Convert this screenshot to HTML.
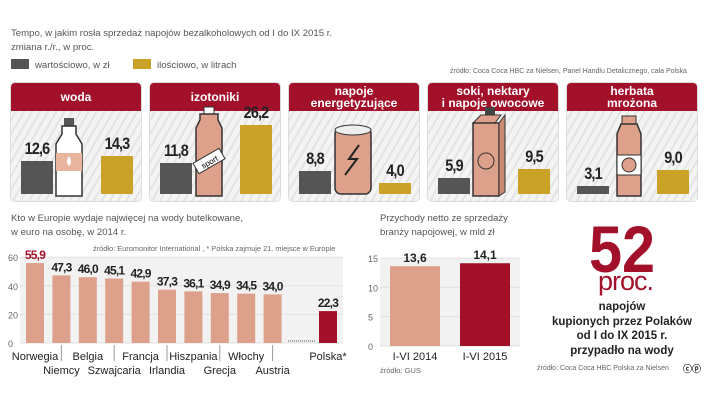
<!DOCTYPE html>
<html><head><meta charset="utf-8">
<style>
*{margin:0;padding:0;box-sizing:border-box}
body{width:720px;height:405px;background:#fff;position:relative;overflow:hidden;font-family:"Liberation Sans",sans-serif;color:#333}
.t{position:absolute;white-space:nowrap}
.panel{position:absolute;top:82px;width:132px;height:120px;border-radius:5px;border:1px solid #ddd;
background:repeating-linear-gradient(-60deg,#f4f4f4 0 5px,#e4e4e4 5px 7px);overflow:hidden}
.hd{position:absolute;left:0;top:0;width:100%;height:28px;background:#a3102a;color:#fff;font-weight:bold;font-size:12px;line-height:12px;text-align:center;display:flex;align-items:center;justify-content:center}
.num{position:absolute;font-weight:bold;font-size:17px;color:#222;letter-spacing:-1px;transform:scaleX(.85);transform-origin:center bottom;width:40px;text-align:center}
.bar{position:absolute}
</style></head><body>
<div class="t" style="left:11px;top:28px;font-size:9.6px;color:#555">Tempo, w jakim rosła sprzedaż napojów bezalkoholowych od I do IX 2015 r.</div>
<div class="t" style="left:11px;top:42px;font-size:9.6px;color:#555">zmiana r./r., w proc.</div>
<div class="t" style="left:11px;top:59px;font-size:9.6px;color:#555"><span style="display:inline-block;width:18px;height:10px;background:#555;vertical-align:-1px;margin-right:6px"></span>wartościowo, w zł</div>
<div class="t" style="left:133px;top:59px;font-size:9.6px;color:#555"><span style="display:inline-block;width:18px;height:10px;background:#c9a227;vertical-align:-1px;margin-right:6px"></span>ilościowo, w litrach</div>
<div class="t" style="left:450px;top:68px;font-size:7px;color:#666">źródło: Coca Coca HBC za Nielsen, Panel Handlu Detalicznego, cała Polska</div>
<div id="panels"></div>

<div class="t" style="left:11px;top:212px;font-size:9.6px;color:#555;line-height:14px">Kto w Europie wydaje najwięcej na wody butelkowane,<br>w euro na osobę, w 2014 r.</div>
<div class="t" style="left:93px;top:244px;font-size:7.4px;color:#666">źródło: Euromonitor International , * Polska zajmuje 21. miejsce w Europie</div>
<svg id="eu" style="position:absolute;left:0;top:250px" width="360" height="135"></svg>

<div class="t" style="left:380px;top:212px;font-size:9.6px;color:#555;line-height:14px">Przychody netto ze sprzedaży<br>branży napojowej, w mld zł</div>
<svg id="rev" style="position:absolute;left:360px;top:250px" width="170" height="115"></svg>
<div class="t" style="left:380px;top:366px;font-size:7.5px;color:#666">źródło: GUS</div>

<div class="t" style="left:589px;top:216px;font-size:66px;font-weight:bold;color:#a3102a;line-height:66px;transform:scaleX(.9);transform-origin:left">52</div>
<div class="t" style="left:598px;top:266px;font-size:27px;color:#a3102a;letter-spacing:-1px">proc.</div>
<div class="t" style="left:552px;top:300px;width:140px;text-align:center;font-size:11.5px;font-weight:bold;color:#222;line-height:14.5px">napojów<br>kupionych przez Polaków<br>od I do IX 2015 r.<br>przypadło na wody</div>
<div class="t" style="left:537px;top:365px;font-size:7px;color:#666">źródło: Coca Coca HBC Polska za Nielsen</div>
<div class="t" style="left:683px;top:362px;font-size:9px;font-weight:bold;color:#333">ⓒⓟ</div>

<script>
const cats=["woda","izotoniki","napoje<br>energetyzujące","soki, nektary<br>i napoje owocowe","herbata<br>mrożona"];
const valueZl=[12.6,11.8,8.8,5.9,3.1];
const volumeL=[14.3,26.2,4.0,9.5,9.0];
const fmt=v=>v.toFixed(1).replace('.',',');
const pk=2.63, base=111;
const icons=[
'<rect x="53" y="35" width="10" height="8" fill="#555"/><path d="M51 43h14v8l6 10v52H45V61l6-10z" fill="#fff" stroke="#333" stroke-width="1.5"/><rect x="45" y="70" width="26" height="18" fill="#e9b49e"/><path d="M58 73q4 6 0 10q-4-4 0-10z" fill="#fff"/>',
'<rect x="54" y="24" width="10" height="7" fill="#fff" stroke="#333"/><path d="M50 31h18v6l4 8v68H46V45l4-8z" fill="#dda08a" stroke="#333" stroke-width="1.5"/><rect x="44" y="72" width="30" height="12" fill="#fff" stroke="#333" transform="rotate(-30 59 78)"/><text x="59" y="82" font-size="8" text-anchor="middle" transform="rotate(-30 59 78)">sport</text>',
'<rect x="46" y="45" width="36" height="66" rx="6" fill="#dda08a" stroke="#333" stroke-width="1.5"/><ellipse cx="64" cy="47" rx="18" ry="5" fill="#eee" stroke="#333"/><path d="M70 62l-10 14h8l-12 16" fill="none" stroke="#222" stroke-width="2"/>',
'<rect x="57" y="24" width="10" height="8" fill="#444"/><path d="M45 40l8-8h20l-6 8z" fill="#dda08a" stroke="#333"/><rect x="45" y="40" width="26" height="73" fill="#dda08a" stroke="#333" stroke-width="1.5"/><path d="M71 40l6-8v77l-6 4z" fill="#c98a74" stroke="#333"/><circle cx="58" cy="78" r="8" fill="none" stroke="#333"/>',
'<rect x="55" y="33" width="14" height="8" fill="#dda08a" stroke="#333"/><path d="M54 41h16l4 10v62H50V51z" fill="#dda08a" stroke="#333" stroke-width="1.5"/><rect x="50" y="72" width="24" height="20" fill="#fff" stroke="#333"/><circle cx="62" cy="82" r="7" fill="#dda08a" stroke="#333"/>'
];
const host=document.getElementById('panels');
cats.forEach((c,i)=>{
  const p=document.createElement('div');p.className='panel';p.style.left=(10+i*139)+'px';
  
  
  const hg=valueZl[i]*pk, hy=volumeL[i]*pk;
  p.innerHTML='<div class="hd">'+c+'</div><svg style="position:absolute;left:0;top:0" width="132" height="120">'+icons[i]+'</svg>'+
   '<div class="bar" style="left:10px;width:32px;top:'+(base-hg)+'px;height:'+hg+'px;background:#555"></div>'+
   '<div class="bar" style="left:90px;width:32px;top:'+(base-hy)+'px;height:'+hy+'px;background:#c9a227"></div>'+
   '<div class="num" style="left:6px;top:'+(base-hg-22)+'px">'+fmt(valueZl[i])+'</div>'+
   '<div class="num" style="left:86px;top:'+(base-hy-22)+'px">'+fmt(volumeL[i])+'</div>';
  host.appendChild(p);
});

const countries=["Norwegia","Niemcy","Belgia","Szwajcaria","Francja","Irlandia","Hiszpania","Grecja","Włochy","Austria","Polska*"];
const spend=[55.9,47.3,46.0,45.1,42.9,37.3,36.1,34.9,34.5,34.0,22.3];
const euTicks=[0,20,40,60];
const ns='http://www.w3.org/2000/svg';
function el(svg,tag,a,txt){const e=document.createElementNS(ns,tag);for(const k in a)e.setAttribute(k,a[k]);if(txt!==undefined)e.textContent=txt;svg.appendChild(e);return e;}
const eu=document.getElementById('eu');
const ey=v=>93-v*1.43;
const ex=i=>i<10?35+i*26.4:328;
el(eu,'rect',{x:20,y:ey(60),width:323,height:ey(0)-ey(60),fill:'#f2f2f2'});
euTicks.forEach(t=>{el(eu,'line',{x1:20,x2:343,y1:ey(t),y2:ey(t),stroke:'#e0e0e0'});el(eu,'text',{x:8,y:ey(t)+4,'font-size':9,fill:'#666'},t);});
el(eu,'line',{x1:288,x2:315,y1:ey(0)-2,y2:ey(0)-2,stroke:'#555','stroke-dasharray':'1 1'});
countries.forEach((c,i)=>{
  const x=ex(i),h=ey(0)-ey(spend[i]);
  const r=el(eu,'rect',{x:x-9,y:ey(spend[i]),width:18,height:h,fill:i==10?'#a3102a':'#dda08a'});
  
  
  el(eu,'text',{x:x,y:ey(spend[i])-4,'font-size':12,'font-weight':'bold','text-anchor':'middle',fill:i==0?'#a3102a':'#222',style:'letter-spacing:-0.8px'},fmt(spend[i]));
  const row=(i%2==0||i==10)?0:1;
  el(eu,'text',{x:x,y:110+row*14,'font-size':11,'text-anchor':'middle',fill:'#222'},c);
  if(i<10&&i%2==1) el(eu,'line',{x1:x,x2:x,y1:95,y2:111,stroke:'#999'});
});

const periods=["I-VI 2014","I-VI 2015"];
const revenue=[13.6,14.1];
const revTicks=[0,5,10,15];
const rv=document.getElementById('rev');
const ry=v=>96-v*5.87;
el(rv,'rect',{x:20,y:ry(15),width:140,height:ry(0)-ry(15),fill:'#f2f2f2'});
revTicks.forEach(t=>{el(rv,'line',{x1:20,x2:160,y1:ry(t),y2:ry(t),stroke:'#e0e0e0'});el(rv,'text',{x:8,y:ry(t)+4,'font-size':9,fill:'#666'},t);});
periods.forEach((p,i)=>{
  const x=55+i*70;
  const r=el(rv,'rect',{x:x-25,y:ry(revenue[i]),width:50,height:ry(0)-ry(revenue[i]),fill:i?'#a3102a':'#dda08a'});
  
  
  el(rv,'text',{x:x,y:ry(revenue[i])-4,'font-size':12,'font-weight':'bold','text-anchor':'middle',fill:'#222'},fmt(revenue[i]));
  el(rv,'text',{x:x,y:110,'font-size':11,'text-anchor':'middle',fill:'#222'},p);
});
</script>
</body></html>
